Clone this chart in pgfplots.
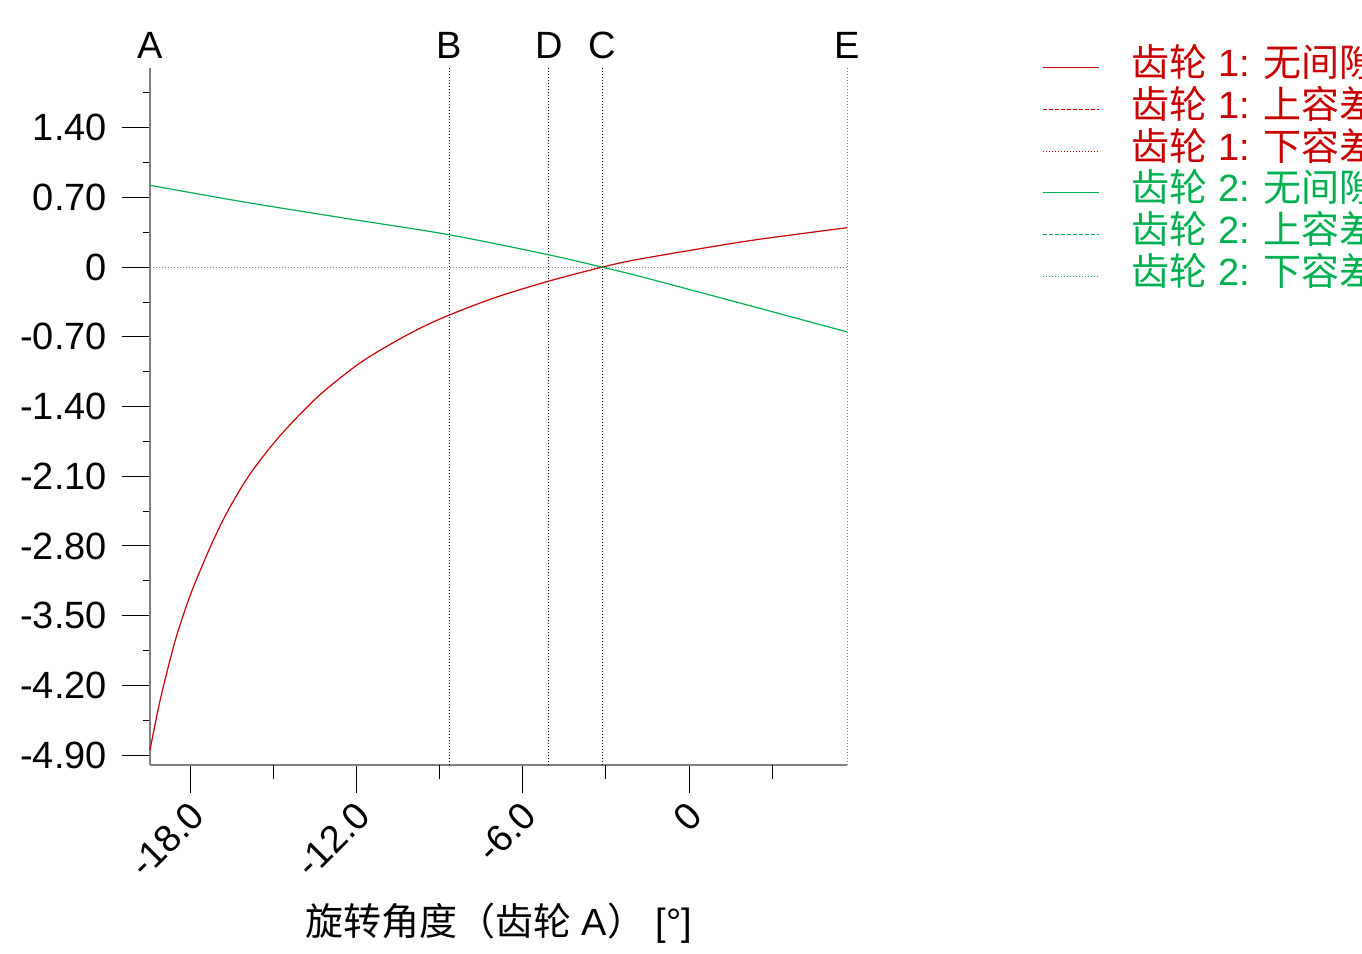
\documentclass[border=0pt]{standalone}
\usepackage{fontspec}
\setmainfont{Liberation Sans}
\newfontfamily\cjk{Noto Sans CJK SC}
\usepackage{pgfplots}
\pgfplotsset{compat=1.18}
\definecolor{gred}{RGB}{200,0,0}
\definecolor{ggreen}{RGB}{0,176,80}
\newcommand\fs{\fontsize{19}{22}\selectfont}
\begin{document}
\begin{tikzpicture}
\begin{axis}[
  at={(75pt,-382.5pt)}, anchor=south west,
  scale only axis, width=348.5pt, height=348.5pt,
  xmin=-19.48, xmax=5.71, ymin=-5.0, ymax=2.0,
  axis lines*=left,
  axis line style={draw=gray, line width=1pt},
  tick align=outside,
  major tick length=14pt,
  minor tick length=3.5pt,
  tick style={black, line width=0.5pt},
  xtick={-18,-12,-6,0},
  xticklabels={-18.0,-12.0,-6.0,0},
  extra x ticks={-15,-9,-3,3},
  extra x tick labels={},
  extra x tick style={major tick length=7pt},
  ytick={-4.9,-4.2,-3.5,-2.8,-2.1,-1.4,-0.7,0,0.7,1.4},
  yticklabels={-4.90,-4.20,-3.50,-2.80,-2.10,-1.40,-0.70,0,0.70,1.40},
  minor ytick={-4.55,-3.85,-3.15,-2.45,-1.75,-1.05,-0.35,0.35,1.05,1.75},
  ticklabel style={font=\fs},
  yticklabel style={xshift=-4pt},
  xticklabel style={rotate=45, anchor=east, xshift=0pt, yshift=-8pt},
  xlabel={{\cjk 旋转角度（齿轮} A{\cjk ）} [°]},
  xlabel style={font=\fs, at={(rel axis cs:0.5,0)}, anchor=base, yshift=-85pt},
  clip=false,
  legend style={at={(rel axis cs:1.28,0.851)}, anchor=west, draw=none, fill=none,
    font=\fs, inner sep=0pt, row sep=0pt,
    nodes={inner sep=0pt, text height=15pt, text depth=5.85pt},
    /tikz/every odd column/.append style={column sep=16pt}},
  legend image code/.code={\draw[#1, line width=0.5pt] (0pt,0pt) -- (28pt,0pt);},
  legend cell align=left,
]
% reference lines
\addplot[gray, line width=0.5pt, dash pattern=on 0.5pt off 1pt, forget plot] coordinates {(-19.48,0) (5.71,0)};
\addplot[black, line width=0.5pt, dash pattern=on 0.5pt off 1pt, forget plot] coordinates {(-8.67,-5) (-8.67,2)};
\addplot[black, line width=0.5pt, dash pattern=on 0.5pt off 1pt, forget plot] coordinates {(-5.06,-5) (-5.06,2)};
\addplot[black, line width=0.5pt, dash pattern=on 0.5pt off 1pt, forget plot] coordinates {(-3.14,-5) (-3.14,2)};
\addplot[gray, line width=0.5pt, dash pattern=on 0.5pt off 1pt, forget plot] coordinates {(5.71,-5) (5.71,2)};
\node[font=\fs, anchor=base, yshift=5pt] at (axis cs:-19.48,2) {A};
\node[font=\fs, anchor=base, yshift=5pt] at (axis cs:-8.67,2) {B};
\node[font=\fs, anchor=base, yshift=5pt] at (axis cs:-5.06,2) {D};
\node[font=\fs, anchor=base, yshift=5pt] at (axis cs:-3.14,2) {C};
\node[font=\fs, anchor=base, yshift=5pt] at (axis cs:5.71,2) {E};
% gear 1
\addplot[gred, line width=0.6pt, smooth] coordinates {
  (-19.48,-4.85) (-19.12,-4.357) (-18.64,-3.822) (-18.30,-3.513) (-17.92,-3.219)
  (-17.31,-2.816) (-16.71,-2.47) (-15.87,-2.08) (-14.78,-1.693) (-13.45,-1.31)
  (-12.13,-1.01) (-11.15,-0.832) (-9.84,-0.63) (-8.70,-0.485)
  (-7.0,-0.305) (-5.05,-0.139) (-3.14,0) (-1.77,0.082) (1.84,0.251)
  (3.8,0.327) (5.71,0.396)};
\addlegendentry{\textcolor{gred}{{\cjk 齿轮} 1: {\cjk 无间隙}}}
\addlegendimage{gred, dash pattern=on 2pt off 1pt}
\addlegendentry{\textcolor{gred}{{\cjk 齿轮} 1: {\cjk 上容差}}}
\addlegendimage{gred, dash pattern=on 0.5pt off 1pt}
\addlegendentry{\textcolor{gred}{{\cjk 齿轮} 1: {\cjk 下容差}}}
% gear 2
\addplot[ggreen, line width=0.6pt, smooth] coordinates {
  (-19.48,0.822) (-16.05,0.653) (-12.43,0.491) (-8.70,0.327) (-5.05,0.123)
  (-3.14,0) (-1.77,-0.093) (1.84,-0.36) (5.71,-0.65)};
\addlegendentry{\textcolor{ggreen}{{\cjk 齿轮} 2: {\cjk 无间隙}}}
\addlegendimage{ggreen, dash pattern=on 2pt off 1pt}
\addlegendentry{\textcolor{ggreen}{{\cjk 齿轮} 2: {\cjk 上容差}}}
\addlegendimage{ggreen, dash pattern=on 0.5pt off 1pt}
\addlegendentry{\textcolor{ggreen}{{\cjk 齿轮} 2: {\cjk 下容差}}}
\end{axis}
\pgfresetboundingbox
\path[use as bounding box] (0,0) rectangle (681pt,-477pt);
\end{tikzpicture}
\end{document}
